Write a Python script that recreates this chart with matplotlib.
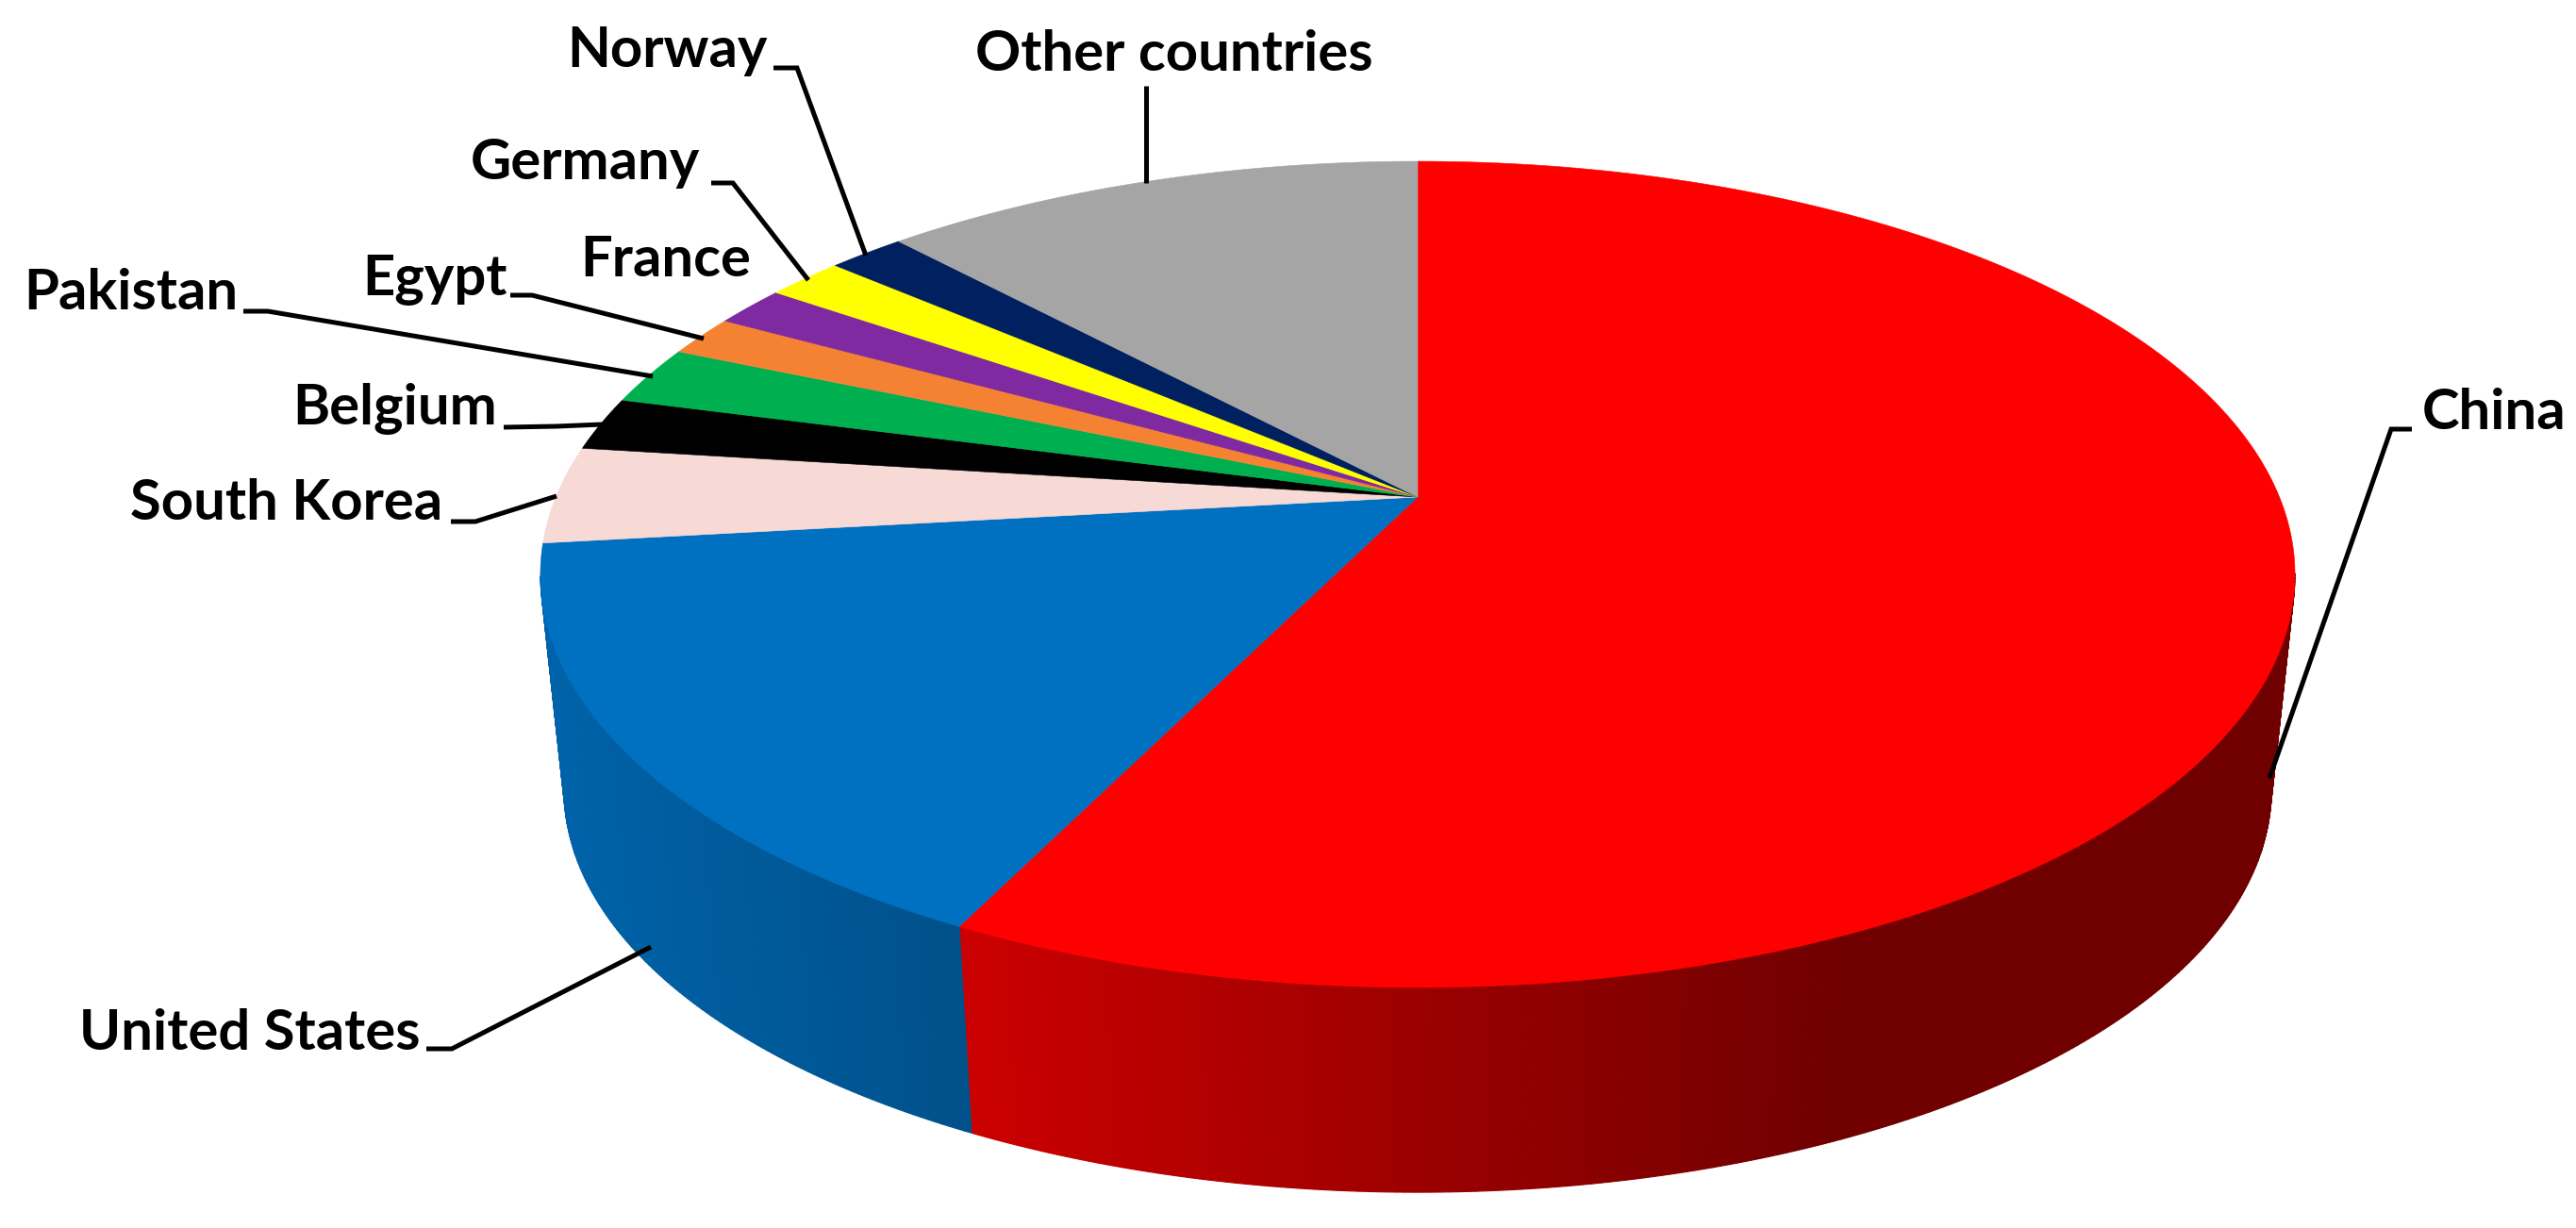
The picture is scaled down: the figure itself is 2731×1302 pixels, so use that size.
import numpy as np
import matplotlib
matplotlib.use("Agg")
import matplotlib.pyplot as plt
from matplotlib.patches import Polygon

# ---- data (share of total, %) ----
countries = ["China", "United States", "South Korea", "Belgium", "Pakistan",
             "Egypt", "France", "Germany", "Norway", "Other countries"]
shares = [57.3, 15.9, 3.8, 2.1, 2.3, 1.6, 1.6, 1.7, 1.7, 12.0]
colors = ["#FF0000", "#0070C0", "#F7D9D5", "#000000", "#00B050",
          "#F58232", "#7F2AA0", "#FFFF00", "#002060", "#A5A5A5"]

# ---- layout: (text left x, baseline y), leader polyline in figure pixels ----
label_pos = [(2568, 455), (84, 1113), (138, 551), (310, 450), (25, 328),
             (384, 313), (615, 293), (499, 190), (601, 71), (1034, 75)]
leaders = [
    [(2557, 455), (2535, 455), (2406, 825)],
    [(452, 1112), (479, 1112), (690, 1004)],
    [(478, 553), (504, 553), (590, 526)],
    [(534, 453), (590, 452), (638, 450)],
    [(258, 330), (284, 330), (692, 399)],
    [(541, 313), (564, 313), (746, 359)],
    None,
    [(754, 194), (777, 194), (857, 297)],
    [(820, 72), (845, 72), (918, 271)],
    [(1215, 91), (1215, 194)],
]

# ---- projection of the pie (perspective) ----
CX, CY = 1503.0, 527.0          # apex of the wedges on screen
A, B, K = 913.6, 422.6, 0.1872  # perspective ellipse parameters
RIM_CY = 609.0                  # centre of the projected top ellipse
LOW_SCALE, LOW_CY = 0.973, 838.0  # lower rim of the cylinder
SIDE_COS = -0.187               # cos(theta) at the widest point of the ellipse


def top_rim(theta):
    sx, sy = np.sin(theta), np.cos(theta)
    w = 1 + K * sy
    return CX + A * sx / w, CY - B * sy / w


def low_rim(theta):
    x, y = top_rim(theta)
    return CX + LOW_SCALE * (x - CX), LOW_CY + LOW_SCALE * (y - RIM_CY)


def shade(x):
    return np.interp(x, [573, 1013, 1014, 1950, 2433],
                     [0.88, 0.72, 0.80, 0.44, 0.44])


fig = plt.figure(figsize=(27.31, 13.02), dpi=100, facecolor="white")
ax = fig.add_axes([0, 0, 1, 1])
ax.set_xlim(0, 2731)
ax.set_ylim(1302, 0)
ax.axis("off")

edges = np.radians(np.concatenate([[0], np.cumsum(shares) / np.sum(shares) * 360]))

# side wall: narrow quads, only on the near part of the pie
for i, col in enumerate(colors):
    t0, t1 = edges[i], edges[i + 1]
    n = max(2, int((t1 - t0) / np.radians(0.5)))
    ts = np.linspace(t0, t1, n + 1)
    base = np.array(matplotlib.colors.to_rgb(col))
    for a, b in zip(ts[:-1], ts[1:]):
        if np.cos((a + b) / 2) > SIDE_COS:
            continue
        xa, ya = top_rim(a)
        xb, yb = top_rim(b)
        xc, yc = low_rim(b)
        xd, yd = low_rim(a)
        c = base * shade((xa + xb) / 2)
        ax.add_patch(Polygon([(xa, ya), (xb, yb), (xc, yc), (xd, yd)],
                             closed=True, facecolor=c, edgecolor=c, lw=0.8, zorder=2))

# top face
for i, col in enumerate(colors):
    ts = np.linspace(edges[i], edges[i + 1], 200)
    xs, ys = top_rim(ts)
    pts = np.column_stack([np.r_[CX, xs], np.r_[CY, ys]])
    ax.add_patch(Polygon(pts, closed=True, facecolor=col, edgecolor=col, lw=0.4, zorder=3))

# labels and leader lines
for name, (tx, ty), line in zip(countries, label_pos, leaders):
    ax.text(tx, ty, name, family="Lato", weight="bold", fontsize=43,
            ha="left", va="baseline", color="black", zorder=5)
    if line:
        lx, ly = zip(*line)
        ax.plot(lx, ly, color="black", lw=3.6, solid_joinstyle="miter",
                solid_capstyle="butt", zorder=4)

fig.savefig("out.png", dpi=100, facecolor="white")
